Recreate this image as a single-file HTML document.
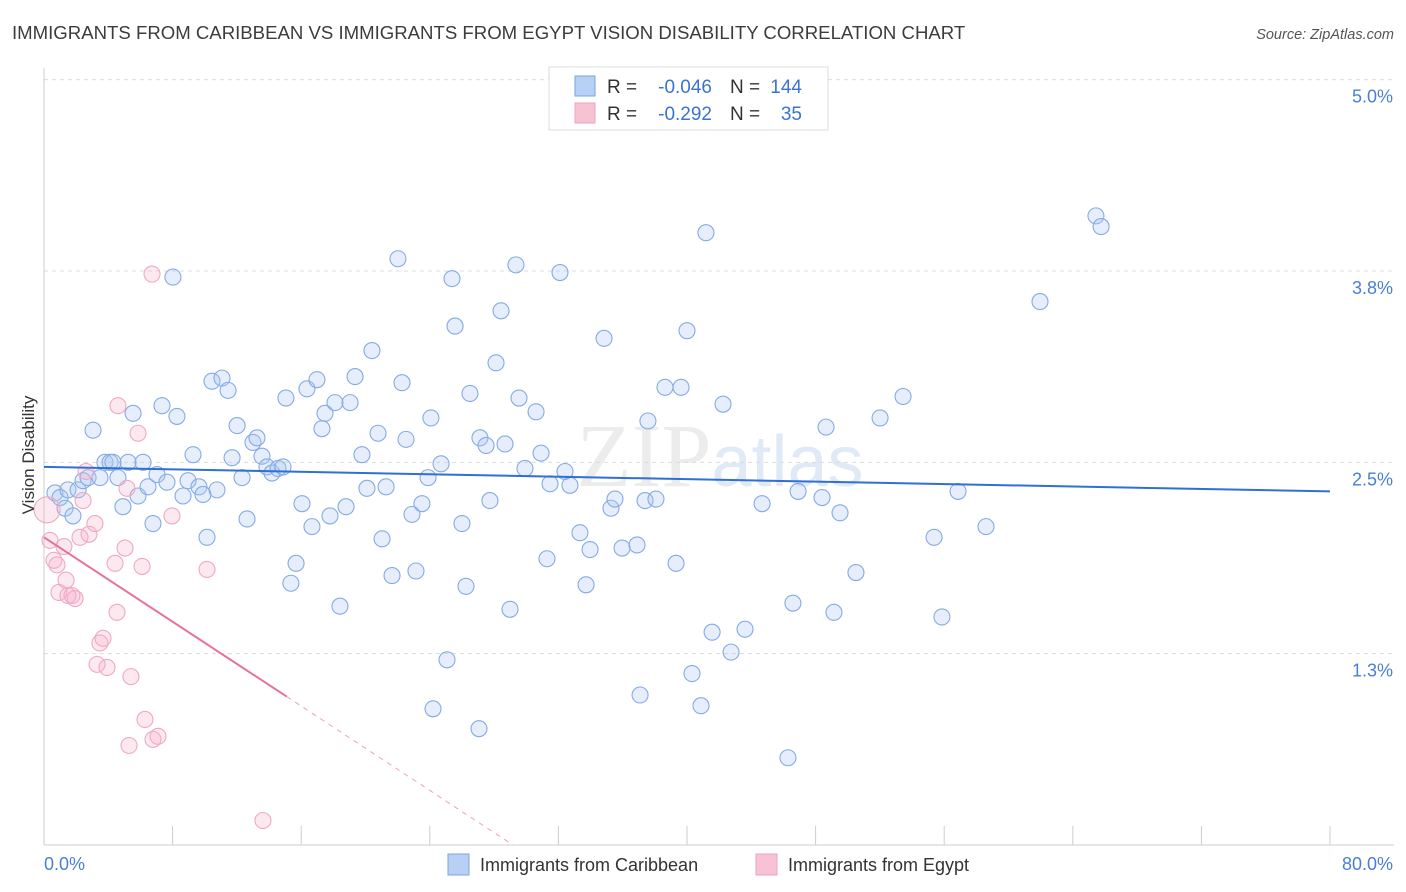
<!DOCTYPE html>
<html><head><meta charset="utf-8">
<style>
body{margin:0;background:#fff;font-family:"Liberation Sans",sans-serif;}
#wrap{position:relative;width:1406px;height:892px;overflow:hidden;}
</style></head>
<body>
<div id="wrap">
<svg id="svg" width="1406" height="892" xmlns="http://www.w3.org/2000/svg">
<text x="12" y="39" font-size="18.6" fill="#3c3c3c">IMMIGRANTS FROM CARIBBEAN VS IMMIGRANTS FROM EGYPT VISION DISABILITY CORRELATION CHART</text>
<text x="1394" y="39" font-size="14.5" fill="#555" font-style="italic" text-anchor="end">Source: ZipAtlas.com</text>
<text x="720" y="486" font-size="90" fill="#ececec" text-anchor="middle" font-family="Liberation Serif,serif">ZIP<tspan fill="#e0e9f6" font-family="Liberation Sans,sans-serif" font-size="72">atlas</tspan></text>
<g id="grid"></g><g id="axes"></g><g id="pts"></g><g id="trend"></g>
<text transform="translate(34,455) rotate(-90)" font-size="17" fill="#333" text-anchor="middle">Vision Disability</text>
<text x="44" y="870" font-size="18" fill="#4a7fd4">0.0%</text>
<text x="1393" y="870" font-size="18" fill="#4a7fd4" text-anchor="end">80.0%</text>
<g>
<rect x="549" y="67" width="279" height="63" fill="#fff" stroke="#ddd"/>
<rect x="575" y="76" width="20" height="20" fill="#b8d0f3" stroke="#7aa3e0"/>
<rect x="575" y="103" width="20" height="20" fill="#f7c3d4" stroke="#f0a0bc"/>
<text x="607" y="93" font-size="19" fill="#333">R =</text>
<text x="712" y="93" font-size="19" fill="#3a74d0" text-anchor="end">-0.046</text>
<text x="730" y="93" font-size="19" fill="#333">N =</text>
<text x="802" y="93" font-size="19" fill="#3a74d0" text-anchor="end">144</text>
<text x="607" y="120" font-size="19" fill="#333">R =</text>
<text x="712" y="120" font-size="19" fill="#3a74d0" text-anchor="end">-0.292</text>
<text x="730" y="120" font-size="19" fill="#333">N =</text>
<text x="802" y="120" font-size="19" fill="#3a74d0" text-anchor="end">35</text>
</g>
<g>
<rect x="448" y="854" width="21" height="21" fill="#b8d0f3" stroke="#7aa3e0"/>
<text x="480" y="871" font-size="18" fill="#333">Immigrants from Caribbean</text>
<rect x="756" y="854" width="21" height="21" fill="#f7c3d4" stroke="#f0a0bc"/>
<text x="788" y="871" font-size="18" fill="#333">Immigrants from Egypt</text>
</g>
</svg>
</div>
<script>
const blueX=[0.68,1.00,1.31,1.49,1.80,2.12,2.43,2.74,3.05,3.48,3.79,4.11,4.29,4.60,4.91,5.23,5.54,5.85,6.16,6.47,6.78,7.03,7.34,7.65,8.02,8.27,8.65,8.96,9.27,9.64,9.89,10.14,10.45,10.76,11.07,11.45,11.70,12.01,12.32,12.63,13.00,13.25,13.56,13.87,14.18,14.56,14.87,15.05,15.36,15.68,16.05,16.36,16.67,16.98,17.29,17.48,17.79,18.10,18.41,18.79,19.04,19.35,19.78,20.09,20.40,20.78,21.03,21.28,21.65,22.02,22.27,22.52,22.89,23.14,23.51,23.89,24.07,24.70,25.07,25.38,25.57,26.00,26.25,26.50,27.06,27.12,27.50,27.74,28.12,28.43,28.68,28.99,29.36,29.55,29.92,30.61,30.92,31.29,31.48,32.10,32.41,32.72,33.34,33.72,33.97,34.84,35.27,35.52,35.96,36.89,37.08,37.39,37.57,38.07,38.63,39.32,39.63,40.00,40.31,40.87,41.18,41.56,42.24,42.74,43.61,44.67,46.28,46.59,46.91,48.40,48.65,49.14,49.52,50.51,52.01,53.44,55.37,55.86,56.86,58.60,61.96,65.44,65.76,24.20];
const blueY=[2.30,2.27,2.20,2.32,2.15,2.32,2.38,2.40,2.71,2.40,2.50,2.50,2.50,2.40,2.21,2.50,2.82,2.28,2.50,2.34,2.10,2.42,2.87,2.37,3.71,2.80,2.28,2.38,2.55,2.34,2.29,2.01,3.03,2.32,3.05,2.97,2.53,2.74,2.40,2.13,2.63,2.66,2.54,2.47,2.43,2.46,2.47,2.92,1.71,1.84,2.23,2.98,2.08,3.04,2.72,2.82,2.15,2.89,1.56,2.21,2.89,3.06,2.55,2.33,3.23,2.69,2.00,2.34,1.76,3.83,3.02,2.65,2.16,1.79,2.23,2.40,2.79,2.49,1.21,3.70,3.39,2.10,1.69,2.95,0.76,2.66,2.61,2.25,3.15,3.49,2.62,1.54,3.79,2.92,2.46,2.83,2.56,1.87,2.36,3.74,2.44,2.35,2.04,1.70,1.93,3.31,2.20,2.26,1.94,1.96,0.98,2.25,2.77,2.26,2.99,1.84,2.99,3.36,1.12,0.91,4.00,1.39,2.88,1.26,1.41,2.23,0.57,1.58,2.31,2.27,2.73,1.52,2.17,1.78,2.79,2.93,2.01,1.49,2.31,2.08,3.55,4.11,4.04,0.89];
const pinkX=[0.19,0.37,0.62,0.81,0.93,1.24,1.37,1.49,1.74,1.93,2.24,2.43,2.61,2.80,3.17,3.48,3.67,3.30,3.92,4.42,4.54,4.60,5.04,5.16,5.29,5.41,5.85,6.10,6.28,6.78,7.09,6.72,7.96,10.14,13.62];
const pinkY=[2.19,1.99,1.86,1.83,1.65,1.95,1.73,1.63,1.63,1.61,2.01,2.25,2.44,2.03,2.10,1.32,1.35,1.18,1.16,1.84,1.52,2.87,1.94,2.33,0.65,1.10,2.69,1.82,0.82,0.69,0.71,3.73,2.15,1.80,0.16];
const yTicks=[1.25,2.5,3.75,5.0];
const yTickLabels=["1.3%","2.5%","3.8%","5.0%"];
const xTicks=[0,8,16,24,32,40,48,56,64,72,80];
const blueTrend=[2.47,2.31];
const pinkTrend=[2.01,-0.0689,15.1];
const NS="http://www.w3.org/2000/svg";
const X=v=>44+v*(1286/80);
const Y=v=>845-v*153.07;
function mk(p,t,a){const e=document.createElementNS(NS,t);for(const k in a)e.setAttribute(k,a[k]);p.appendChild(e);return e;}
const grid=document.getElementById('grid'),axes=document.getElementById('axes'),pts=document.getElementById('pts'),tr=document.getElementById('trend'),svg=document.getElementById('svg');
yTicks.forEach((t,i)=>{
 const l=mk(grid,'line',{x1:44,x2:1394,y1:Y(t),y2:Y(t),stroke:'#dcdcdc','stroke-dasharray':'4,4'});
 
 
 const tx=mk(svg,'text',{x:1393,y:Y(t)+23,'font-size':18,fill:'#4a7fd4','text-anchor':'end'});
 tx.textContent=yTickLabels[i];
 
 
});
const ax=mk(axes,'line',{x1:44,x2:44,y1:68,y2:845,stroke:'#ccc'});


const bx=mk(axes,'line',{x1:44,x2:1394,y1:845,y2:845,stroke:'#ccc'});


xTicks.forEach(t=>{
 const l=mk(axes,'line',{x1:X(t),x2:X(t),y1:826,y2:845,stroke:'#ccc'});
 
 
});
blueX.forEach((v,i)=>{
 const c=mk(pts,'circle',{cx:X(v),cy:Y(blueY[i]),r:8,fill:'rgba(170,198,240,0.3)',stroke:'#86aae6','stroke-width':1.1});
 
 
});
pinkX.forEach((v,i)=>{
 const c=mk(pts,'circle',{cx:X(v),cy:Y(pinkY[i]),r:i==0?13:8,fill:'rgba(245,175,200,0.28)',stroke:'#f0a8c2','stroke-width':1.1});
 
 
});
const bl=mk(tr,'line',{x1:X(0),y1:Y(blueTrend[0]),x2:X(80),y2:Y(blueTrend[1]),stroke:'#2f6fd6','stroke-width':2});


const pe=pinkTrend[2],xEnd=-pinkTrend[0]/pinkTrend[1];
const pl=mk(tr,'line',{x1:X(0),y1:Y(pinkTrend[0]),x2:X(pe),y2:Y(pinkTrend[0]+pinkTrend[1]*pe),stroke:'#e8709a','stroke-width':2});


const pd=mk(tr,'line',{x1:X(pe),y1:Y(pinkTrend[0]+pinkTrend[1]*pe),x2:X(xEnd),y2:Y(0),stroke:'#eea0bd','stroke-width':1,'stroke-dasharray':'5,5'});


</script>
</body></html>
